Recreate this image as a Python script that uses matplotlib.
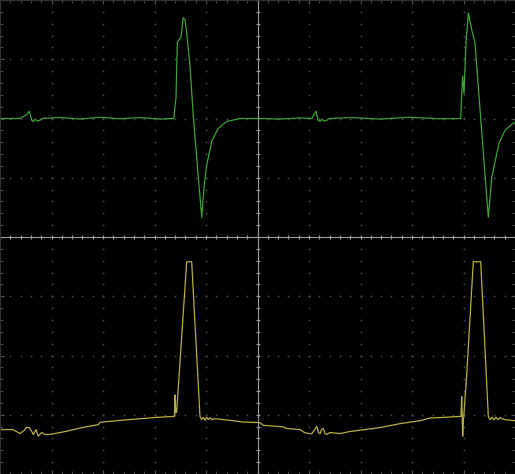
import numpy as np
import matplotlib
matplotlib.use('Agg')
import matplotlib.pyplot as plt

# scope screen: 10 divisions across, 8 down (bottom edge cut a bit)
x_divs = 10
y_top, y_bot = 4.0, -3.9

# CH1 (green) - time in divisions, level in divisions
ch1_t = [0, 0.388, 0.518, 0.569, 0.616, 0.647, 0.680, 0.724, 0.777, 0.816,
         1.165, 1.553, 1.942, 2.330, 2.718, 3.107, 3.379,
         3.398, 3.417, 3.443, 3.482, 3.515, 3.559, 3.592, 3.625, 3.689, 3.753,
         3.831, 3.917, 3.967, 4.014, 4.111, 4.239, 4.402, 4.660,
         5.049, 5.437, 5.825, 6.058, 6.097, 6.136, 6.175, 6.214, 6.252, 6.291,
         6.350, 6.388, 6.796, 7.379, 7.961, 8.544, 8.946,
         8.961, 8.984, 9.010, 9.049, 9.093, 9.159, 9.223, 9.334, 9.482, 9.548,
         9.689, 9.806, 9.961, 10.0]
ch1_v = [2.0, 2.0, 2.067, 2.122, 1.972, 1.95, 1.988, 1.955, 1.972, 2.0,
         2.017, 1.99, 2.02, 1.995, 2.015, 1.99, 2.0,
         2.217, 2.333, 3.283, 3.333, 3.383, 3.70, 3.667, 3.45, 2.883, 2.05,
         1.217, 0.333, 0.883, 1.217, 1.617, 1.833, 1.95, 2.0,
         2.0, 1.99, 2.01, 2.0, 2.067, 2.122, 1.972, 1.95, 1.988, 1.955,
         1.972, 2.0, 2.015, 1.99, 2.02, 1.995, 2.0,
         2.333, 2.717, 2.417, 3.283, 3.783, 3.5, 3.283, 2.0, 0.333, 1.0,
         1.583, 1.8, 1.917, 1.933]

# CH2 (yellow)
ch2_t = [0, 0.252, 0.388, 0.466, 0.518, 0.569, 0.616, 0.647, 0.699, 0.744,
         0.810, 0.874, 0.971, 1.295, 1.617, 1.909, 1.942, 2.266, 2.718, 3.043,
         3.365, 3.388, 3.398, 3.412, 3.431, 3.625, 3.722, 3.883, 3.917, 3.948,
         3.981, 4.014, 4.045, 4.078, 4.117, 4.175, 4.524, 4.718, 5.049, 5.113,
         5.501, 5.567, 5.825, 5.922, 6.052, 6.097, 6.150, 6.184, 6.214, 6.243,
         6.278, 6.311, 6.344, 6.408, 6.602, 6.796, 7.379, 7.767, 8.155, 8.350,
         8.608, 8.932, 8.951, 8.965, 8.984, 9.0, 9.062, 9.190, 9.334, 9.482,
         9.515, 9.553, 9.592, 9.631, 9.670, 9.709, 9.806, 10.0]
ch2_v = [-3.25, -3.25, -3.317, -3.267, -3.212, -3.217, -3.283, -3.333, -3.25, -3.362,
         -3.30, -3.333, -3.333, -3.278, -3.212, -3.167, -3.128, -3.10, -3.067, -3.045,
         -3.028, -3.028, -2.667, -2.967, -2.945, -0.417, -0.417, -3.028, -3.083, -3.042,
         -3.092, -3.042, -3.083, -3.05, -3.083, -3.067, -3.10, -3.122, -3.133, -3.178,
         -3.205, -3.233, -3.25, -3.305, -3.322, -3.267, -3.195, -3.30, -3.322, -3.25,
         -3.233, -3.317, -3.333, -3.30, -3.317, -3.283, -3.217, -3.15, -3.10, -3.055,
         -3.045, -3.028, -3.028, -2.695, -3.362, -3.083, -2.333, -0.417, -0.417, -3.028,
         -3.083, -3.042, -3.083, -3.042, -3.083, -3.05, -3.083, -3.10]

grid_col = '#4a4a4a'
axis_col = '#9a9a9a'

fig = plt.figure(figsize=(5.15, 4.74), dpi=100, facecolor='black')
ax = fig.add_axes([0, 0, 1, 1])
ax.set_facecolor('black')
ax.set_xlim(0, x_divs)
ax.set_ylim(y_bot, y_top)

# dotted graticule
xs = np.arange(0, x_divs + 0.01, 0.2)
ys = np.arange(-4, 4.01, 0.2)
for gx in range(1, x_divs):
    if gx == 5:
        continue
    ax.plot(np.full(len(ys), gx), ys, ls='none', marker='s', ms=1.2, mew=0, color=grid_col)
for gy in range(-3, 4):
    if gy == 0:
        continue
    ax.plot(xs, np.full(len(xs), gy), ls='none', marker='s', ms=1.2, mew=0, color=grid_col)

# centre axes with small ticks
ax.axvline(5, color=axis_col, lw=0.8)
ax.axhline(0, color=axis_col, lw=0.8)
ax.plot(np.full(len(ys), 5), ys, ls='none', marker='_', ms=3.5, mew=0.9, color=axis_col)
ax.plot(xs, np.zeros(len(xs)), ls='none', marker='|', ms=3.5, mew=0.9, color=axis_col)

# border ticks
ax.set_xticks(range(0, x_divs + 1))
ax.set_yticks(range(-4, 5))
ax.set_xticks(xs, minor=True)
ax.set_yticks(ys, minor=True)
ax.tick_params(which='both', direction='in', colors='#555555', labelbottom=False,
               labelleft=False, top=True, right=True)
ax.tick_params(which='major', length=3)
ax.tick_params(which='minor', length=2)
for s in ax.spines.values():
    s.set_color('#333333')

ax.plot(ch1_t, ch1_v, color='#3ea237', lw=0.9)
ax.plot(ch2_t, ch2_v, color='#b8ae42', lw=0.9)

fig.savefig('out.png', dpi=100, facecolor='black')
